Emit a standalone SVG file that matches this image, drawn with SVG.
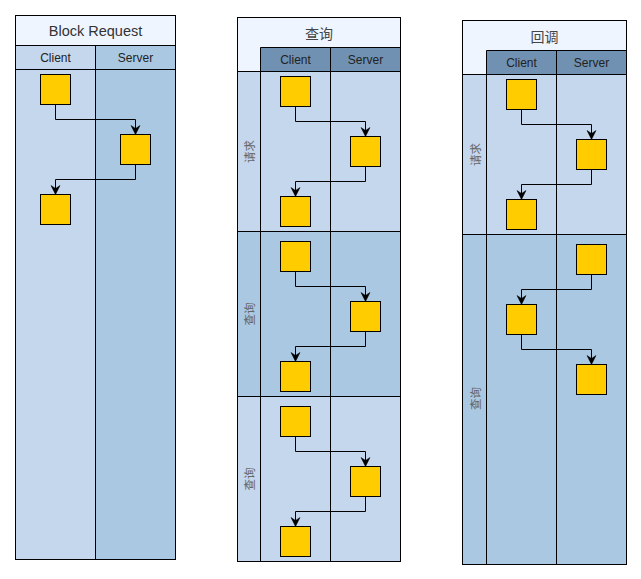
<svg xmlns="http://www.w3.org/2000/svg" width="641" height="579" viewBox="0 0 641 579">
<style>
.title{fill:#EEF5FF}
.lt{fill:#C4D7ED}
.dk{fill:#AAC8E2}
.hd{fill:#7091B2}
.ln{stroke:#000;stroke-width:1;fill:none}
.box{fill:#FFCC00;stroke:#000;stroke-width:1}
.edge{stroke:#000;stroke-width:1;fill:none;marker-end:url(#arr)}
text{font-family:"Liberation Sans","Noto Sans CJK SC",Arial,sans-serif;text-anchor:middle;dominant-baseline:central}
.tt{font-size:14.5px;fill:#333}
.ct{font-size:14px;fill:#444;font-family:"Noto Sans CJK SC","Liberation Sans",sans-serif}
.ht{font-size:12px;fill:#222}
.lb{font-size:11.5px;fill:#666;font-family:"Noto Sans CJK SC","Liberation Sans",sans-serif}
</style>
<defs>
<marker id="arr" markerUnits="userSpaceOnUse" viewBox="-10 -6 11 12" refX="0" refY="0" markerWidth="11" markerHeight="12" orient="auto">
<path d="M-9,-4.5 L0,0 L-9,4.5 L-6,0 Z" fill="#000" stroke="#000" stroke-width="0.5"/>
</marker>
</defs>

<!-- Pool 1: Block Request -->
<g id="pool1">
<rect class="title" x="15.5" y="15.5" width="160" height="30"/>
<rect class="lt" x="15.5" y="45.5" width="80" height="514"/>
<rect class="dk" x="95.5" y="45.5" width="80" height="514"/>
<path class="ln" d="M15.5 45.5H175.5M15.5 69.5H175.5M95.5 45.5V559.5"/>
<rect class="ln" x="15.5" y="15.5" width="160" height="544"/>
<text class="tt" x="95.5" y="30.5">Block Request</text>
<text class="ht" x="55.5" y="57.5">Client</text>
<text class="ht" x="135.5" y="57.5">Server</text>
</g>

<!-- Pool 2: 查询 -->
<g id="pool2">
<rect class="title" x="237.5" y="17.5" width="163" height="54"/>
<rect class="hd" x="260.5" y="47.5" width="140" height="24"/>
<rect class="lt" x="237.5" y="71.5" width="163" height="160"/>
<rect class="dk" x="237.5" y="231.5" width="163" height="165"/>
<rect class="lt" x="237.5" y="396.5" width="163" height="165"/>
<path class="ln" d="M260.5 47.5H400.5M237.5 71.5H400.5M237.5 231.5H400.5M237.5 396.5H400.5M260.5 47.5V561.5M330.5 47.5V561.5"/>
<rect class="ln" x="237.5" y="17.5" width="163" height="544"/>
<text class="ct" x="319" y="32.5">查询</text>
<text class="ht" x="295.5" y="59.5">Client</text>
<text class="ht" x="365.5" y="59.5">Server</text>
<text class="lb" transform="translate(249,151.5) rotate(-90)">请求</text>
<text class="lb" transform="translate(249,314) rotate(-90)">查询</text>
<text class="lb" transform="translate(249,479) rotate(-90)">查询</text>
</g>

<!-- Pool 3: 回调 -->
<g id="pool3">
<rect class="title" x="462.5" y="20.5" width="164" height="54"/>
<rect class="hd" x="486.5" y="50.5" width="140" height="24"/>
<rect class="lt" x="462.5" y="74.5" width="164" height="160"/>
<rect class="dk" x="462.5" y="234.5" width="164" height="330"/>
<path class="ln" d="M486.5 50.5H626.5M462.5 74.5H626.5M462.5 234.5H626.5M486.5 50.5V564.5M556.5 50.5V564.5"/>
<rect class="ln" x="462.5" y="20.5" width="164" height="544"/>
<text class="ct" x="544.5" y="35.5">回调</text>
<text class="ht" x="521.5" y="62.5">Client</text>
<text class="ht" x="591.5" y="62.5">Server</text>
<text class="lb" transform="translate(474.5,154.5) rotate(-90)">请求</text>
<text class="lb" transform="translate(474.5,398.5) rotate(-90)">查询</text>
</g>

<!-- Nodes -->
<g id="p1n1"><rect class="box" x="40.5" y="74.5" width="30" height="30"/></g>
<g id="p1n2"><rect class="box" x="120.5" y="134.5" width="30" height="30"/></g>
<g id="p1n3"><rect class="box" x="40.5" y="194.5" width="30" height="30"/></g>

<g id="p2n1"><rect class="box" x="280.5" y="76.5" width="30" height="30"/></g>
<g id="p2n2"><rect class="box" x="350.5" y="136.5" width="30" height="30"/></g>
<g id="p2n3"><rect class="box" x="280.5" y="196.5" width="30" height="30"/></g>
<g id="p2n4"><rect class="box" x="280.5" y="241.5" width="30" height="30"/></g>
<g id="p2n5"><rect class="box" x="350.5" y="301.5" width="30" height="30"/></g>
<g id="p2n6"><rect class="box" x="280.5" y="361.5" width="30" height="30"/></g>
<g id="p2n7"><rect class="box" x="280.5" y="406.5" width="30" height="30"/></g>
<g id="p2n8"><rect class="box" x="350.5" y="466.5" width="30" height="30"/></g>
<g id="p2n9"><rect class="box" x="280.5" y="526.5" width="30" height="30"/></g>

<g id="p3n1"><rect class="box" x="506.5" y="79.5" width="30" height="30"/></g>
<g id="p3n2"><rect class="box" x="576.5" y="139.5" width="30" height="30"/></g>
<g id="p3n3"><rect class="box" x="506.5" y="199.5" width="30" height="30"/></g>
<g id="p3n4"><rect class="box" x="576.5" y="244.5" width="30" height="30"/></g>
<g id="p3n5"><rect class="box" x="506.5" y="304.5" width="30" height="30"/></g>
<g id="p3n6"><rect class="box" x="576.5" y="364.5" width="30" height="30"/></g>

<!-- Connectors -->
<g id="connectors">
<path class="edge" d="M55.5 104.5V119.5H135.5V134.5"/>
<path class="edge" d="M135.5 164.5V179.5H55.5V194.5"/>

<path class="edge" d="M295.5 106.5V121.5H365.5V136.5"/>
<path class="edge" d="M365.5 166.5V181.5H295.5V196.5"/>
<path class="edge" d="M295.5 271.5V286.5H365.5V301.5"/>
<path class="edge" d="M365.5 331.5V346.5H295.5V361.5"/>
<path class="edge" d="M295.5 436.5V451.5H365.5V466.5"/>
<path class="edge" d="M365.5 496.5V511.5H295.5V526.5"/>

<path class="edge" d="M521.5 109.5V124.5H591.5V139.5"/>
<path class="edge" d="M591.5 169.5V184.5H521.5V199.5"/>
<path class="edge" d="M591.5 274.5V289.5H521.5V304.5"/>
<path class="edge" d="M521.5 334.5V349.5H591.5V364.5"/>
</g>
</svg>
